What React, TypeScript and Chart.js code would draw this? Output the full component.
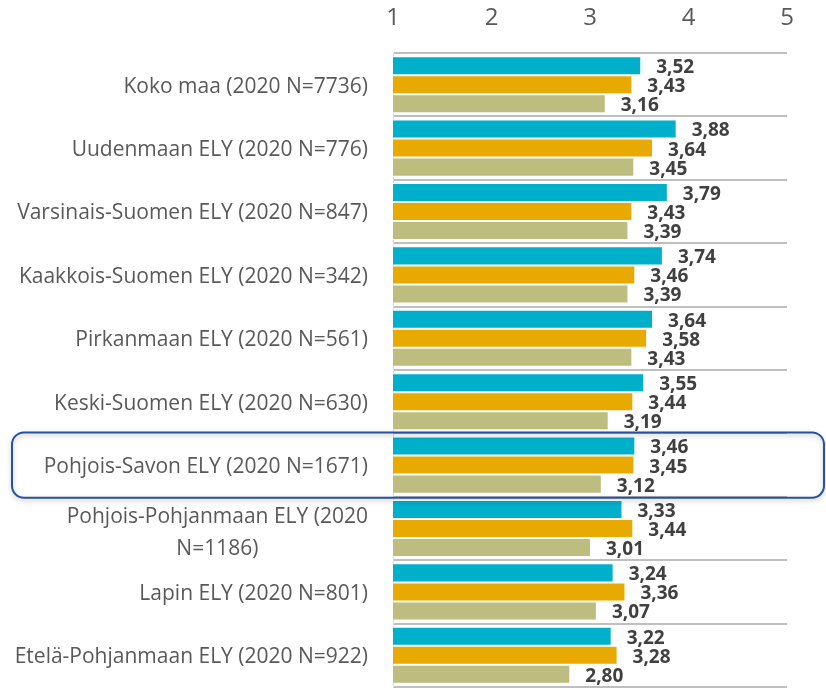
import React, { useEffect, useRef } from "react";
import { Chart, registerables } from "chart.js";

Chart.register(...registerables);

const categories: (string | string[])[] = [
  "Koko maa (2020 N=7736)",
  "Uudenmaan ELY (2020 N=776)",
  "Varsinais-Suomen ELY (2020 N=847)",
  "Kaakkois-Suomen ELY (2020 N=342)",
  "Pirkanmaan ELY (2020 N=561)",
  "Keski-Suomen ELY (2020 N=630)",
  "Pohjois-Savon ELY (2020 N=1671)",
  ["Pohjois-Pohjanmaan ELY (2020", "N=1186)"],
  "Lapin ELY (2020 N=801)",
  "Etelä-Pohjanmaan ELY (2020 N=922)",
];

const seriesTeal = [3.52, 3.88, 3.79, 3.74, 3.64, 3.55, 3.46, 3.33, 3.24, 3.22];
const seriesGold = [3.43, 3.64, 3.43, 3.46, 3.58, 3.44, 3.45, 3.44, 3.36, 3.28];
const seriesKhaki = [3.16, 3.45, 3.39, 3.39, 3.43, 3.19, 3.12, 3.01, 3.07, 2.8];

const xTickValues = [1, 2, 3, 4, 5];
const highlightIndex = 6;

const fmt = (v: number) => v.toFixed(2).replace(".", ",");

export default function App() {
  const ref = useRef<HTMLCanvasElement>(null);

  useEffect(() => {
    if (!ref.current) return;

    const overlayPlugin = {
      id: "overlay",
      afterDraw(chart: any) {
        const ctx = chart.ctx as CanvasRenderingContext2D;
        const yScale = chart.scales.y;
        const area = chart.chartArea;
        ctx.save();

        // value labels
        ctx.font = "bold 19px 'Open Sans'";
        ctx.fillStyle = "#404040";
        ctx.textAlign = "left";
        ctx.textBaseline = "middle";
        chart.data.datasets.forEach((ds: any, di: number) => {
          const meta = chart.getDatasetMeta(di);
          meta.data.forEach((bar: any, i: number) => {
            ctx.fillText(fmt(ds.data[i]), bar.x + 15, bar.y + 2);
          });
        });

        // category labels
        ctx.font = "21px 'Open Sans'";
        ctx.fillStyle = "#595959";
        ctx.textAlign = "center";
        const right = area.left - 25;
        categories.forEach((lab, i) => {
          const cy = yScale.getPixelForValue(i);
          const lines = Array.isArray(lab) ? lab : [lab];
          const lh = 32;
          const w = Math.max(...lines.map((l) => ctx.measureText(l).width));
          const cx = right - w / 2;
          const off = lines.length > 1 ? 5 : 2;
          lines.forEach((l, k) => {
            ctx.fillText(l, cx, cy + off + (k - (lines.length - 1) / 2) * lh);
          });
        });

        // highlight box
        const step = yScale.getPixelForValue(1) - yScale.getPixelForValue(0);
        const cyH = yScale.getPixelForValue(highlightIndex);
        const top = cyH - step / 2 - 1;
        const h = step + 2;
        ctx.shadowColor = "rgba(0,0,0,0.25)";
        ctx.shadowBlur = 5;
        ctx.shadowOffsetY = 2;
        ctx.strokeStyle = "#2451A4";
        ctx.lineWidth = 2;
        ctx.beginPath();
        (ctx as any).roundRect(12, top, chart.width - 14, h, 12);
        ctx.stroke();
        ctx.restore();
      },
    };

    const chart = new Chart(ref.current, {
      type: "bar",
      data: {
        labels: categories.map((c) => (Array.isArray(c) ? c.join(" ") : c)),
        datasets: [
          { label: "Sarja 1", data: seriesTeal, backgroundColor: "#00AFC9" },
          { label: "Sarja 2", data: seriesGold, backgroundColor: "#E8A900" },
          { label: "Sarja 3", data: seriesKhaki, backgroundColor: "#BDBD80" },
        ].map((d) => ({
          ...d,
          borderColor: "#FFFFFF",
          borderWidth: 1,
          borderSkipped: false,
          barPercentage: 1,
          categoryPercentage: 0.9,
        })),
      },
      options: {
        indexAxis: "y",
        animation: false,
        responsive: true,
        maintainAspectRatio: false,
        layout: { padding: { top: 0, right: 39, bottom: 5, left: 0 } },
        plugins: {
          legend: { display: false },
          tooltip: { enabled: false },
        },
        scales: {
          x: {
            position: "top",
            min: xTickValues[0],
            max: xTickValues[xTickValues.length - 1],
            afterBuildTicks: (s: any) => {
              s.ticks = xTickValues.map((v) => ({ value: v }));
            },
            ticks: {
              color: "#595959",
              font: { family: "'Open Sans'", size: 24 },
              padding: 20,
            },
            grid: { display: false, drawTicks: false },
            border: { display: false },
            afterFit: (s: any) => {
              s.height = 53;
            },
          },
          y: {
            ticks: { display: false },
            grid: {
              offset: true,
              color: "#BFBFBF",
              lineWidth: 2,
              drawTicks: false,
            },
            border: { display: true, color: "#D9D9D9", width: 1 },
            afterFit: (s: any) => {
              s.width = 393;
            },
          },
        },
      } as any,
      plugins: [overlayPlugin],
    });

    return () => chart.destroy();
  }, []);

  return (
    <div style={{ position: "absolute", left: 0, top: 0, width: 826, height: 692, background: "#fff" }}>
      <canvas ref={ref} />
    </div>
  );
}
